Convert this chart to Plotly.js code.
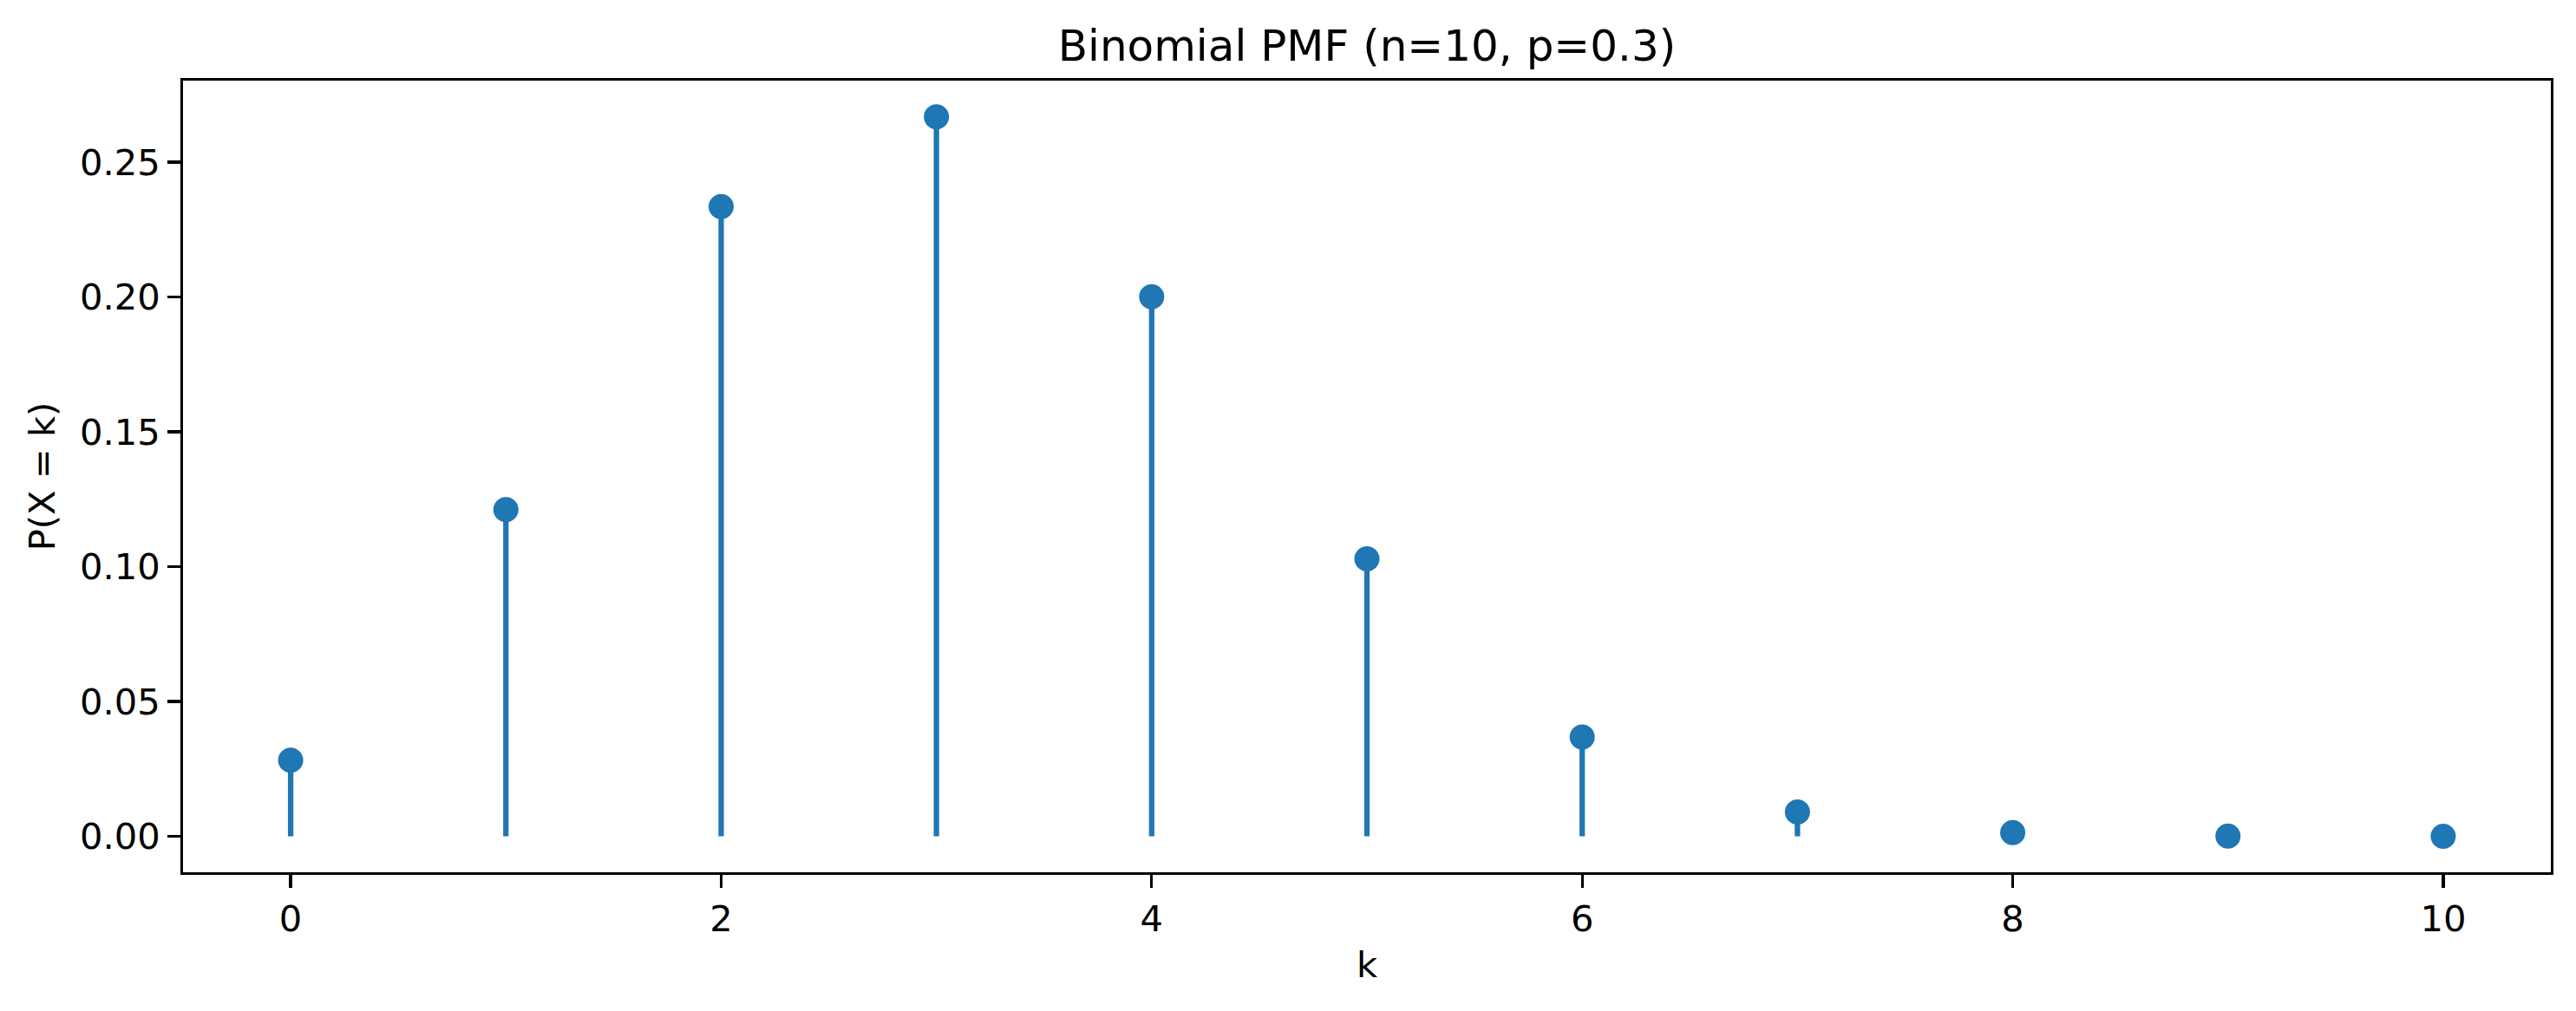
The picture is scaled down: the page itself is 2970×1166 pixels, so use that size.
<!DOCTYPE html>
<html>
<head>
<meta charset="utf-8">
<script src="https://cdn.plot.ly/plotly-3.0.1.min.js"></script>
<style>
  html, body { margin: 0; padding: 0; background: #ffffff; }
  #chart { width: 2970px; height: 1166px; }
</style>
</head>
<body>
<div id="chart"></div>
<script>
// Data
const kValues = [0, 1, 2, 3, 4, 5, 6, 7, 8, 9, 10];
const pmfValues = [0.0282, 0.1211, 0.2335, 0.2668, 0.2001, 0.1029, 0.0368, 0.0090, 0.0014, 0.0001, 0.0000];
const xTickValues = [0, 2, 4, 6, 8, 10];
const yTickValues = [0.00, 0.05, 0.10, 0.15, 0.20, 0.25];

const titleText = 'Binomial PMF (n=10, p=0.3)';
const xLabel = 'k';
const yLabel = 'P(X = k)';

const stemColor = '#1f77b4';
const fontFamily = '"DejaVu Sans", "Liberation Sans", sans-serif';

// Stems drawn as one-sided error bars from each value down to zero
const stemTrace = {
  type: 'scatter',
  mode: 'markers',
  x: kValues,
  y: pmfValues,
  marker: { color: stemColor, size: 29, line: { width: 0 } },
  error_y: {
    type: 'data',
    symmetric: false,
    array: pmfValues.map(() => 0),
    arrayminus: pmfValues,
    color: stemColor,
    thickness: 6.25,
    width: 0,
    visible: true
  },
  hoverinfo: 'x+y',
  showlegend: false
};

const layout = {
  width: 2970,
  height: 1166,
  paper_bgcolor: '#ffffff',
  plot_bgcolor: '#ffffff',
  margin: { l: 211, r: 29, t: 93, b: 160, pad: 0 },
  font: { family: fontFamily, size: 41.67, color: '#000000' },
  title: {
    text: titleText,
    font: { family: fontFamily, size: 50, color: '#000000' },
    x: 0.5,
    xref: 'paper',
    xanchor: 'center',
    y: 1 - 52 / 1166,
    yref: 'container',
    yanchor: 'middle'
  },
  xaxis: {
    range: [-0.5, 10.5],
    tickmode: 'array',
    tickvals: xTickValues,
    ticktext: xTickValues.map(v => String(v)),
    ticks: 'outside',
    ticklen: 14.6,
    tickwidth: 3.33,
    tickcolor: '#000000',
    showline: true,
    linecolor: '#000000',
    linewidth: 3.33,
    mirror: true,
    showgrid: false,
    zeroline: false,
    tickfont: { family: fontFamily, size: 41.67, color: '#000000' },
    title: {
      text: xLabel,
      font: { family: fontFamily, size: 41.67, color: '#000000' },
      standoff: 16
    },
    automargin: false
  },
  yaxis: {
    range: [-0.01334, 0.2802],
    tickmode: 'array',
    tickvals: yTickValues,
    ticktext: yTickValues.map(v => v.toFixed(2)),
    ticks: 'outside',
    ticklen: 14.6,
    tickwidth: 3.33,
    tickcolor: '#000000',
    showline: true,
    linecolor: '#000000',
    linewidth: 3.33,
    mirror: true,
    showgrid: false,
    zeroline: false,
    tickfont: { family: fontFamily, size: 41.67, color: '#000000' },
    title: {
      text: yLabel,
      font: { family: fontFamily, size: 41.67, color: '#000000' },
      standoff: 16
    },
    automargin: false
  }
};

Plotly.newPlot('chart', [stemTrace], layout, { displayModeBar: false, staticPlot: true });
</script>
</body>
</html>
